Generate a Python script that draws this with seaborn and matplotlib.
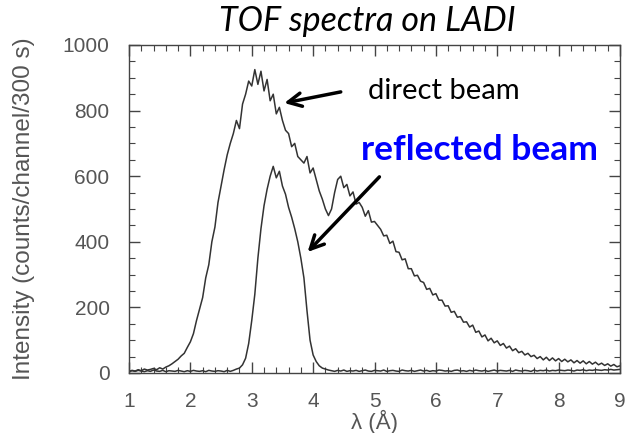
import numpy as np
import pandas as pd
import matplotlib
matplotlib.use("Agg")
import matplotlib.pyplot as plt
import seaborn as sns
from matplotlib.ticker import MultipleLocator

# ---- data ----
wavelength = [round(1.0 + 0.05 * i, 2) for i in range(161)]  # 1.00 .. 9.00 step 0.05

direct_beam = [
    5, 8, 6, 10, 7, 12, 9, 11, 14, 10, 16, 12,                 # 1.00-1.55
    18, 22, 28, 35, 42, 52, 60, 78, 95, 120,                   # 1.60-2.05
    160, 195, 230, 290, 330, 400, 445, 520, 570, 620,          # 2.10-2.55
    665, 700, 730, 770, 745, 820, 850, 890, 875, 925,          # 2.60-3.05
    880, 920, 860, 895, 830, 850, 790, 810, 770, 740,          # 3.10-3.55
    730, 690, 700, 660, 650, 640, 660, 610, 625, 590,          # 3.60-4.05
    555, 530, 500, 480, 500, 550, 590, 600, 565, 575,          # 4.10-4.55
    540, 552, 515, 520, 505, 478, 495, 460, 462, 450,          # 4.60-5.05
    438, 418, 420, 395, 402, 370, 368, 345, 348, 318,          # 5.10-5.55
    318, 296, 298, 280, 276, 255, 258, 238, 242, 222,          # 5.60-6.05
    222, 204, 205, 185, 188, 170, 172, 155, 156, 140,          # 6.10-6.55
    146, 124, 128, 110, 116, 98, 106, 92, 98, 84,              # 6.60-7.05
    90, 76, 82, 68, 74, 62, 66, 55, 60, 50,                    # 7.10-7.55
    54, 44, 50, 40, 48, 38, 46, 37, 44, 35,                    # 7.60-8.05
    42, 34, 40, 31, 38, 30, 37, 28, 35, 27,                    # 8.10-8.55
    33, 25, 30, 23, 28, 21, 26, 19, 22,                        # 8.60-9.00
]

reflected_beam = [
    4, 7, 5, 8, 6, 4, 7, 5, 9, 6, 5, 8, 4, 7, 6, 5, 8,         # 1.00-1.80
    6, 4, 7, 5, 8, 6, 5, 7, 4, 8, 6, 5, 7, 6, 4, 8, 5,         # 1.85-2.65
    8, 12, 15, 25, 45, 90, 160, 240, 350, 440,                 # 2.70-3.15
    510, 560, 600, 630, 595, 615, 570, 545, 505, 475,          # 3.20-3.65
    440, 400, 350, 290, 190, 100, 55, 35, 22, 15, 12, 9,       # 3.70-4.25
    7, 5, 8, 6, 9, 5, 7, 6, 8, 5, 7, 9, 6, 5, 8, 7, 6, 9, 5,   # 4.30-5.20
    7, 8, 6, 5, 9, 7, 6, 8, 5, 7, 9, 6, 8, 5, 7, 6, 9, 8, 6,   # 5.25-6.15
    7, 5, 8, 9, 6, 7, 5, 8, 6, 9, 7, 6, 8, 5, 7, 9, 6, 8, 7,   # 6.20-7.10
    6, 8, 5, 9, 7, 6, 8, 7, 5, 9, 6, 8, 7, 9, 6, 8, 7, 9, 8,   # 7.15-8.05
    7, 9, 8, 6, 9, 8, 10, 7, 9, 8, 10, 9, 8, 10, 9, 11, 9, 10, 11,  # 8.10-9.00
]

x_ticks = [1, 2, 3, 4, 5, 6, 7, 8, 9]
y_ticks = [0, 200, 400, 600, 800, 1000]

df = pd.DataFrame({
    "wavelength": wavelength * 2,
    "intensity": direct_beam + reflected_beam,
    "beam": ["direct"] * len(direct_beam) + ["reflected"] * len(reflected_beam),
})

# ---- figure ----
sns.set_theme(style="ticks")
plt.rcParams["font.family"] = ["Liberation Sans", "DejaVu Sans"]

fig = plt.figure(figsize=(6.26, 4.33), dpi=100)
ax = fig.add_axes([129 / 626, 1 - 373 / 433, (620 - 129) / 626, (373 - 45) / 433])

sns.lineplot(data=df, x="wavelength", y="intensity", units="beam", estimator=None,
             color="#333333", linewidth=1.1, ax=ax, legend=False)

ax.set_xlim(1, 9)
ax.set_ylim(0, 1000)
ax.set_xticks(x_ticks)
ax.set_yticks(y_ticks)
ax.xaxis.set_minor_locator(MultipleLocator(0.2))
ax.yaxis.set_minor_locator(MultipleLocator(50))
ax.tick_params(which="both", direction="in", top=True, right=True, color="#444444")
ax.tick_params(which="major", length=8, width=1.0)
ax.tick_params(which="minor", length=4, width=0.8)
ax.tick_params(axis="x", which="major", labelsize=15, pad=14, labelcolor="#555555")
ax.tick_params(axis="y", which="major", labelsize=15, pad=14, labelcolor="#555555")
for s in ax.spines.values():
    s.set_color("#444444")
    s.set_linewidth(1.0)

ax.set_xlabel("λ (Å)", fontsize=16, color="#555555", labelpad=-1)
ax.set_ylabel("Intensity (counts/channel/300 s)", fontsize=17.5, color="#555555", labelpad=20)

# title
fig.text(367 / 626, 1 - 21 / 433, "TOF spectra on LADI", fontsize=24.5, style="italic",
         family=["Lato", "DejaVu Sans"], ha="center", va="center", color="black")

# annotations
ax.annotate("", xy=(3.53, 823), xytext=(4.45, 857),
            arrowprops=dict(arrowstyle="->", lw=2.5, color="black", mutation_scale=24,
                            shrinkA=0, shrinkB=0))
ax.text(4.9, 860, "direct beam", fontsize=21, family=["Lato", "DejaVu Sans"],
        ha="left", va="center", color="black")

ax.annotate("", xy=(3.91, 369), xytext=(5.08, 598),
            arrowprops=dict(arrowstyle="->", lw=2.5, color="black", mutation_scale=24,
                            shrinkA=0, shrinkB=0))
ax.text(4.78, 680, "reflected beam", fontsize=25.5, fontweight="bold",
        family=["Lato", "DejaVu Sans"], ha="left", va="center", color="#0000ff")

fig.savefig("out.png", dpi=100)
